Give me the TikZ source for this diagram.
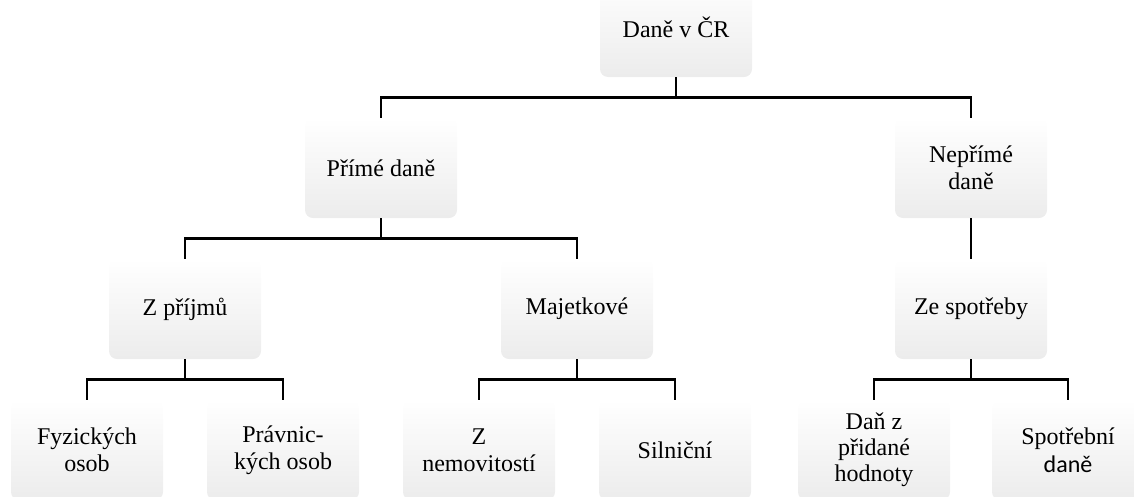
\documentclass[tikz,border=0pt]{standalone}
\usepackage{fontspec}
\setmainfont{Liberation Serif}
\newfontfamily\calibri{Carlito}
\tikzset{
  tbox/.style={rectangle, minimum width=152pt, minimum height=100pt, inner sep=0pt,
    rounded corners=8pt, top color=white, bottom color=gray!15, align=center,
    font=\fontsize{24}{27.5}\selectfont},
  conn/.style={line width=2.8pt, line join=miter, draw=black}
}
\begin{document}
\begin{tikzpicture}[x=1pt,y=-1pt]
\useasboundingbox (0,0) rectangle (1134,496);
\clip (0,0) rectangle (1134,496);
\node[tbox] (top) at (676,27) {Daně v ČR};
\node[tbox] (prime) at (381,168) {Přímé daně};
\node[tbox] (neprime) at (971,168) {Nepřímé\\daně};
\node[tbox] (zpr) at (185,309) {Z příjmů};
\node[tbox] (maj) at (577,309) {Majetkové};
\node[tbox] (zes) at (971,309) {Ze spotřeby};
\node[tbox] (fyz) at (87,450) {Fyzických\\osob};
\node[tbox] (prav) at (283,450) {Právnic-\\kých osob};
\node[tbox] (nem) at (479,450) {Z\\nemovitostí};
\node[tbox] (sil) at (675,450) {Silniční};
\node[tbox, font=\fontsize{24}{26}\selectfont] (dph) at (874,450) {Daň z\\přidané\\hodnoty};
\node[tbox] (spot) at (1068,450) {Spotřební\\{\calibri daně}};
\draw[conn] (top.south) -- ++(0,20) -| (prime.north);
\draw[conn] (top.south) -- ++(0,20) -| (neprime.north);
\draw[conn] (prime.south) -- ++(0,20) -| (zpr.north);
\draw[conn] (prime.south) -- ++(0,20) -| (maj.north);
\draw[conn] (neprime.south) -- (zes.north);
\draw[conn] (zpr.south) -- ++(0,20) -| (fyz.north);
\draw[conn] (zpr.south) -- ++(0,20) -| (prav.north);
\draw[conn] (maj.south) -- ++(0,20) -| (nem.north);
\draw[conn] (maj.south) -- ++(0,20) -| (sil.north);
\draw[conn] (zes.south) -- ++(0,20) -| (dph.north);
\draw[conn] (zes.south) -- ++(0,20) -| (spot.north);
\end{tikzpicture}
\end{document}
